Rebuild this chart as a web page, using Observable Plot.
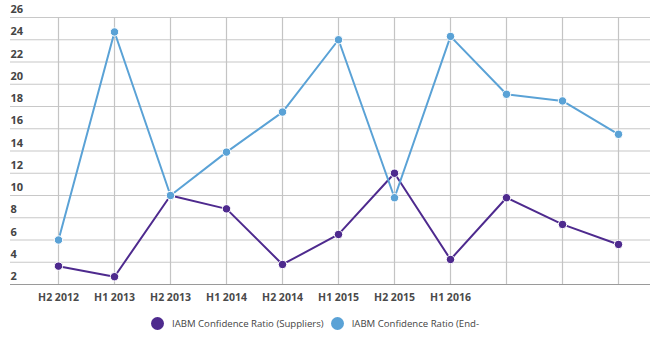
<!DOCTYPE html>
<html>
<head>
<meta charset="utf-8">
<script src="https://cdn.jsdelivr.net/npm/d3@7"></script>
<script src="https://cdn.jsdelivr.net/npm/@observablehq/plot@0.6"></script>
<style>
  html, body { margin: 0; padding: 0; background: #fff; }
  #chart { width: 650px; }
  .legend { display: flex; align-items: center; height: 35px; font-family: "Open Sans", sans-serif; font-size: 9.6px; color: #444; padding-left: 151px; }
  .legend .sw { width: 13px; height: 13px; border-radius: 50%; display: inline-block; margin-right: 8px; }
  .legend .item { display: flex; align-items: center; margin-right: 7px; }
</style>
</head>
<body>
<div id="chart"></div>
<script>
const periods = ["H2 2012","H1 2013","H2 2013","H1 2014","H2 2014","H1 2015","H2 2015","H1 2016","H2 2016","H1 2017","H2 2017"];
const periodLabels = ["H2 2012","H1 2013","H2 2013","H1 2014","H2 2014","H1 2015","H2 2015","H1 2016","","",""];
const suppliers = [3.65, 2.7, 10, 8.8, 3.8, 6.5, 12, 4.25, 9.8, 7.4, 5.6];
const endUsers = [6, 24.7, 10, 13.9, 17.5, 24, 9.8, 24.3, 19.1, 18.5, 15.5];
const seriesNames = ["IABM Confidence Ratio (Suppliers)", "IABM Confidence Ratio (End-"];
const seriesColors = ["#4e2a8e", "#5aa2d6"];
const yTicks = [2,4,6,8,10,12,14,16,18,20,22,24,26];

const data = [];
periods.forEach((p, i) => {
  data.push({period: p, value: suppliers[i], series: seriesNames[0]});
  data.push({period: p, value: endUsers[i], series: seriesNames[1]});
});
const labelOf = new Map(periods.map((p, i) => [p, periodLabels[i]]));

const chart = Plot.plot({
  width: 650,
  height: 306,
  marginLeft: 10,
  marginRight: 0,
  marginTop: 17,
  marginBottom: 22,
  style: {fontFamily: "Open Sans, sans-serif", background: "#fff"},
  x: {type: "point", domain: periods, range: [53, 622], padding: 0},
  y: {domain: [2, 26], axis: null},
  color: {domain: seriesNames, range: seriesColors},
  marks: [
    Plot.ruleY(yTicks.slice(1), {stroke: "#c8c8c8", strokeWidth: 1.2}),
    Plot.ruleX(periods, {x: d => d, y1: 2, y2: 26, stroke: "#c4c4c4", strokeWidth: 1.2}),
    Plot.ruleY([2], {stroke: "#9a9a9a", strokeWidth: 1.2}),
    Plot.text(yTicks, {y: d => d, frameAnchor: "left", textAnchor: "start", dy: -8, text: d => String(d), fill: "#444", fontSize: 11, fontWeight: "bold"}),
    Plot.axisX({tickSize: 0, tickPadding: 9, tickFormat: d => labelOf.get(d), fill: "#4a4a4a", fontSize: 10.5, fontWeight: "bold", label: null}),
    Plot.line(data, {x: "period", y: "value", stroke: "series", z: "series", strokeWidth: 2}),
    Plot.dot(data, {x: "period", y: "value", fill: "series", r: 4.2, stroke: "#fff", strokeWidth: 1})
  ]
});
document.getElementById("chart").appendChild(chart);

const legend = document.createElement("div");
legend.className = "legend";
seriesNames.forEach((n, i) => {
  const item = document.createElement("span");
  item.className = "item";
  const sw = document.createElement("span");
  sw.className = "sw";
  sw.style.background = seriesColors[i];
  const t = document.createElement("span");
  t.textContent = n;
  item.appendChild(sw);
  item.appendChild(t);
  legend.appendChild(item);
});
document.getElementById("chart").appendChild(legend);
</script>
</body>
</html>
